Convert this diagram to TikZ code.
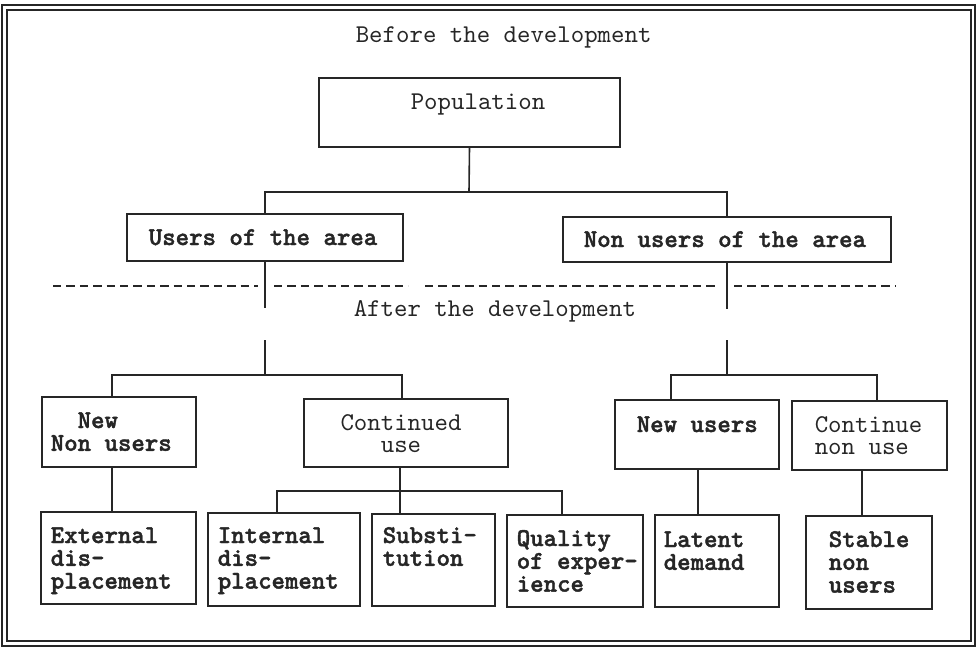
\documentclass[tikz,border=0pt]{standalone}
\usepackage{fontspec}
\setmainfont{lmmono10-regular.otf}[BoldFont=lmmonolt10-bold.otf,BoldFeatures={FakeBold=1.6}]
\usetikzlibrary{fit}
\begin{document}
\begin{tikzpicture}[x=0.5pt,y=-0.5pt,
  line width=0.8pt, draw=black!85,
  box/.style={draw, rectangle, inner sep=0pt, fit={#1}},
  txt/.style={inner sep=0pt, text=black!85, font=\fontsize{12.8}{11.4}\selectfont},
  bold/.style={txt, font=\fontsize{12.8}{11.4}\selectfont\bfseries},
  sep/.style={dash pattern=on 4.2pt off 2.5pt}]
\useasboundingbox (0,0) rectangle (976,648);
% double frame
\draw (2,5) rectangle (975,646);
\draw (7,10) rectangle (971,641);
% titles
\node[txt, anchor=base west] (before) at (355,42) {Before the development};
\node[txt, anchor=base west] (after) at (353,316) {After the development};
% boxes
\node[box={(319,78)(620,147)}] (pop) {};
\node[box={(127,214)(403,261)}] (users) {};
\node[box={(563,217)(891,262)}] (nonusers) {};
\node[box={(42,397)(196,467)}] (nnu) {};
\node[box={(304,399)(508,467)}] (cu) {};
\node[box={(615,400)(779,469)}] (nu) {};
\node[box={(792,401)(947,470)}] (cnu) {};
\node[box={(41,512)(196,604)}] (ext) {};
\node[box={(208,513)(360,606)}] (intd) {};
\node[box={(372,514)(495,606)}] (subst) {};
\node[box={(507,515)(643,607)}] (qual) {};
\node[box={(655,515)(779,607)}] (lat) {};
\node[box={(806,516)(932,609)}] (stab) {};
% texts
\node[txt, anchor=base west] (popt) at (410,109) {Population};
\node[bold, anchor=base west] (userst) at (148,245) {Users of the area};
\node[bold, anchor=base west] (nonuserst) at (583,247) {Non users of the area};
\node[bold, anchor=base west] (nnut) at (50,428) {\begin{tabular}[t]{@{}l@{}}\phantom{xx}New\\Non users\end{tabular}};
\node[txt, anchor=base] (cut) at (401,430) {\begin{tabular}[t]{@{}c@{}}Continued\\use\end{tabular}};
\node[bold, anchor=base west] (nut) at (636,432) {New users};
\node[txt, anchor=base west] (cnut) at (814,432) {\begin{tabular}[t]{@{}l@{}}Continue\\non use\end{tabular}};
\node[bold, anchor=base west] (extt) at (50,543) {\begin{tabular}[t]{@{}l@{}}External\\dis-\\placement\end{tabular}};
\node[bold, anchor=base west] (intt) at (217,543) {\begin{tabular}[t]{@{}l@{}}Internal\\dis-\\placement\end{tabular}};
\node[bold, anchor=base west] (subt) at (382,543) {\begin{tabular}[t]{@{}l@{}}Substi-\\tution\end{tabular}};
\node[bold, anchor=base west] (qualt) at (516,546) {\begin{tabular}[t]{@{}l@{}}Quality\\of exper-\\ience\end{tabular}};
\node[bold, anchor=base west] (latt) at (663,547) {\begin{tabular}[t]{@{}l@{}}Latent\\demand\end{tabular}};
\node[bold, anchor=base west] (stabt) at (828,547) {\begin{tabular}[t]{@{}l@{}}Stable\\non\\users\end{tabular}};
% junction coordinates
\coordinate (j0) at (469,192);
\coordinate (uL) at (265,308);
\coordinate (uL2) at (265,340);
\coordinate (jL) at (265,375);
\coordinate (uR) at (727,309);
\coordinate (uR2) at (727,340);
\coordinate (jR) at (727,375);
\coordinate (aL) at (112,375);
\coordinate (aC) at (402,375);
\coordinate (aN) at (671,375);
\coordinate (aK) at (877,375);
\coordinate (jC) at (400,491);
\coordinate (bI) at (277,491);
\coordinate (bQ) at (562,491);
\coordinate (dE) at (112,467);
\coordinate (dL) at (698,469);
\coordinate (dS) at (862,470);
% connectors level 1
\draw (pop.south) -- (j0);
\draw (users.north) |- (j0) -| (nonusers.north);
\draw (users.south) -- (uL);
\draw (nonusers.south) -- (uR);
% separator
\draw[sep] (53,286) -- (258,286);
\draw[sep] (274,286) -- (408,286);
\draw[sep] (425,286) -- (719,286);
\draw[sep] (734,286) -- (896,286);
% level 2 left
\draw (uL2) -- (jL);
\draw (aL |- nnu.north) |- (aC) -- (aC |- cu.north);
% level 2 right
\draw (uR2) -- (jR);
\draw (aN |- nu.north) |- (aK) -- (aK |- cnu.north);
% level 3
\draw (dE) -- (dE |- ext.north);
\draw (jC |- cu.south) -- (jC |- subst.north);
\draw (bI |- intd.north) |- (bQ) -- (bQ |- qual.north);
\draw (dL) -- (dL |- lat.north);
\draw (dS) -- (dS |- stab.north);
\end{tikzpicture}
\end{document}
